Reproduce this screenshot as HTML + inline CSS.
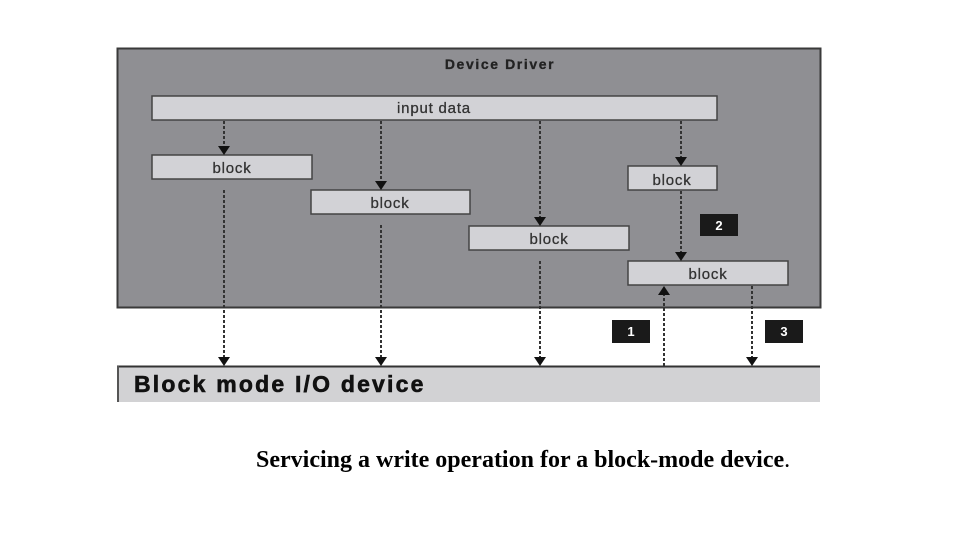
<!DOCTYPE html>
<html><head><meta charset="utf-8"><style>
html,body{margin:0;padding:0;background:#fff;width:960px;height:540px;overflow:hidden}
svg{display:block}
</style></head><body>
<svg width="960" height="540" viewBox="0 0 960 540" xmlns="http://www.w3.org/2000/svg">
<rect x="117.5" y="48.5" width="703" height="259" fill="#8f8f93" stroke="#3a3a3a" stroke-width="2"/>
<text x="500" y="69" font-family="Liberation Sans, sans-serif" font-weight="bold" font-size="14" letter-spacing="1.6" fill="#222" text-anchor="middle" stroke="#222" stroke-width="0.3">Device Driver</text>
<g fill="#d2d2d6" stroke="#444" stroke-width="1.5">
<rect x="152" y="96" width="565" height="24"/>
<rect x="152" y="155" width="160" height="24"/>
<rect x="311" y="190" width="159" height="24"/>
<rect x="469" y="226" width="160" height="24"/>
<rect x="628" y="166" width="89" height="24"/>
<rect x="628" y="261" width="160" height="24"/>
</g>
<g font-family="Liberation Sans, sans-serif" font-size="15" letter-spacing="0.8" fill="#333" text-anchor="middle" stroke="#333" stroke-width="0.3">
<text x="434" y="113">input data</text>
<text x="232" y="173">block</text>
<text x="390" y="208">block</text>
<text x="549" y="244">block</text>
<text x="672" y="185">block</text>
<text x="708" y="279">block</text>
</g>
<rect x="117" y="366" width="703" height="36" fill="#d2d2d4"/>
<line x1="117" y1="366.5" x2="820" y2="366.5" stroke="#333" stroke-width="2"/>
<line x1="118" y1="366" x2="118" y2="402" stroke="#555" stroke-width="2"/>
<text x="134" y="392" font-family="Liberation Sans, sans-serif" font-weight="bold" font-size="23" letter-spacing="2.2" fill="#111" stroke="#111" stroke-width="0.6">Block mode I/O device</text>
<g stroke="#333" stroke-width="2" stroke-dasharray="3,2" fill="none">
<line x1="224" y1="121" x2="224" y2="146"/>
<line x1="381" y1="121" x2="381" y2="181"/>
<line x1="540" y1="121" x2="540" y2="217"/>
<line x1="681" y1="121" x2="681" y2="157"/>
<line x1="681" y1="191" x2="681" y2="252"/>
<line x1="224" y1="190" x2="224" y2="357"/>
<line x1="381" y1="225" x2="381" y2="357"/>
<line x1="540" y1="261" x2="540" y2="357"/>
<line x1="752" y1="286" x2="752" y2="357"/>
<line x1="664" y1="366" x2="664" y2="294"/>
</g>
<g fill="#111">
<polygon points="218,146 230,146 224,155"/>
<polygon points="375,181 387,181 381,190"/>
<polygon points="534,217 546,217 540,226"/>
<polygon points="675,157 687,157 681,166"/>
<polygon points="675,252 687,252 681,261"/>
<polygon points="218,357 230,357 224,366"/>
<polygon points="375,357 387,357 381,366"/>
<polygon points="534,357 546,357 540,366"/>
<polygon points="746,357 758,357 752,366"/>
<polygon points="658,295 670,295 664,286"/>
</g>
<g fill="#1a1a1a">
<rect x="700" y="214" width="38" height="22"/>
<rect x="612" y="320" width="38" height="23"/>
<rect x="765" y="320" width="38" height="23"/>
</g>
<g font-family="Liberation Sans, sans-serif" font-weight="bold" font-size="13" fill="#fff" text-anchor="middle">
<text x="719" y="230">2</text>
<text x="631" y="336">1</text>
<text x="784" y="336">3</text>
</g>
<text x="256" y="467" font-family="Liberation Serif, serif" font-weight="bold" font-size="24" fill="#000">Servicing a write operation for a block-mode device<tspan font-weight="normal">.</tspan></text>
</svg>
</body></html>
